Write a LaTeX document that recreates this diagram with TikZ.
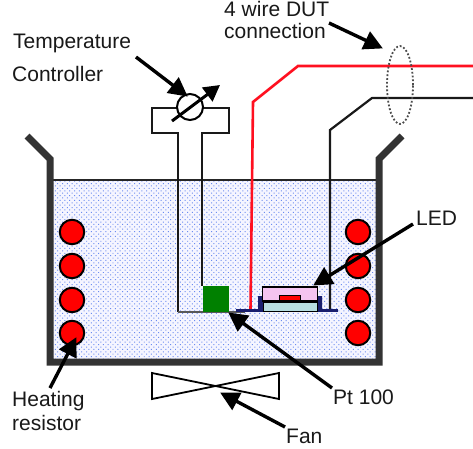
\documentclass[tikz,border=0pt]{standalone}
\usepackage{fontspec}
\setmainfont{Liberation Sans}
\usetikzlibrary{arrows.meta,patterns.meta,shapes.geometric}
\definecolor{wallc}{HTML}{333333}
\definecolor{wirered}{HTML}{FF1020}
\definecolor{ledblue}{HTML}{1A1F6E}
\definecolor{dotblue}{HTML}{6C8CF0}
\definecolor{chipc}{HTML}{B8DEE0}
\definecolor{lensc}{HTML}{F4C4F0}
\tikzset{
 lbl/.style={inner sep=0pt,font=\fontsize{21pt}{24pt}\selectfont,anchor=west,text=black!90},
 ptr/.style={line width=3.4pt,-{Triangle[length=19pt,width=19pt]},shorten >=-1pt},
 wall/.style={line width=7pt,wallc,line join=miter},
 heater/.style={circle,draw=black,line width=2pt,fill=red,minimum size=24.5pt,inner sep=0pt},
 redwire/.style={line width=2.6pt,wirered,line join=miter},
}
\begin{document}
\begin{tikzpicture}[x=1pt,y=-1pt]
\useasboundingbox (0,0) rectangle (473,448);
% water
\fill[white] (0,0) rectangle (473,448);
\fill[blue!4] (50,180) rectangle (379,360);
\fill[pattern={Dots[distance=3.4pt,radius=.7pt,angle=45]},pattern color=dotblue] (50,180) rectangle (379,360);
\draw[line width=1.6pt,black!85] (50,180) -- (379,180);
% tank
\draw[wall] (27,136) -- (50,159) -- (50,362) -- (379,362) -- (379,159) -- (402,136);
% heaters
\foreach \n/\yy in {a/232,b/266,c/300,d/333}{
 \node[heater] (hl\n) at (72,\yy) {};
 \node[heater] (hr\n) at (358,\yy) {};
}
% controller
\draw[line width=2pt,black!90] (178,312) -- (178,133) -- (152,133) -- (152,108) -- (229,108) -- (229,133) -- (202,133) -- (202,286);
\draw[line width=1.6pt,black!65] (178,312) -- (245,312);
\node[circle,draw=black,line width=2pt,fill=white,minimum size=26pt,inner sep=0pt] (dial) at (190,107) {};
\coordinate (dialA) at (172,121);
\coordinate (dialB) at (220,85);
\draw[line width=3pt,-{Triangle[length=16pt,width=17pt]}] (dialA) -- (dialB);
% Pt100
\node[fill=green!50!black,minimum width=26pt,minimum height=26pt,inner sep=0pt] (pt) at (216,299) {};
% wires
\coordinate (r0) at (250.5,310); \coordinate (r1) at (253,102); \coordinate (r2) at (298,66); \coordinate (r3) at (473,66);
\draw[redwire] (r0) -- (r1) -- (r2) -- (r3);
\coordinate (k0) at (330,310); \coordinate (k1) at (330,130); \coordinate (k2) at (372,98); \coordinate (k3) at (473,98);
\draw[line width=2.2pt,black!90] (k0) -- (k1) -- (k2) -- (k3);
\node[ellipse,draw=black!70,line width=1.8pt,dotted,minimum width=26pt,minimum height=78pt,inner sep=0pt] (bundle) at (400,85) {};
% LED
\draw[line width=3pt,ledblue] (236,310.5) -- (338,310.5);
\fill[ledblue] (258,296) rectangle (263,311) (317,296) rectangle (322,311);
\node[fill=chipc,draw=black,line width=1pt,minimum width=54pt,minimum height=9pt,inner sep=0pt] (chip) at (290,306.5) {};
\node[fill=lensc,draw=black,line width=1.2pt,minimum width=55pt,minimum height=14pt,inner sep=0pt] (lens) at (290,294) {};
\node[fill=red,draw=black,line width=.8pt,minimum width=21pt,minimum height=5pt,inner sep=0pt] (die) at (289.5,298) {};
% fan
\draw[line width=1.8pt,black,line join=miter] (152,373) -- (279,399) -- (279,373) -- (152,399) -- cycle;
% labels
\node[lbl] (ltemp) at (13,43) {Temperature};
\node[lbl] (lctrl) at (12,74) {Controller};
\node[lbl] (l4w) at (224,9) {4 wire DUT};
\node[lbl] (lconn) at (224,31) {connection};
\node[lbl] (lled) at (416,218) {LED};
\node[lbl] (lpt) at (333,397) {Pt 100};
\node[lbl] (lheat) at (12,401) {Heating};
\node[lbl] (lres) at (12,423) {resistor};
\node[lbl] (lfan) at (286,436) {Fan};
% pointers
\coordinate (s1) at (136,57); \coordinate (t1) at (187,96);
\coordinate (s2) at (329,23); \coordinate (t2) at (382,48);
\coordinate (s3) at (413,224); \coordinate (t3) at (314,285);
\coordinate (s4) at (332,388); \coordinate (t4) at (229,313);
\coordinate (s5) at (50,388); \coordinate (t5) at (76,338);
\coordinate (s6) at (285,427); \coordinate (t6) at (221,393);
\foreach \i in {1,...,6}{\draw[ptr] (s\i) -- (t\i);}
\end{tikzpicture}
\end{document}
